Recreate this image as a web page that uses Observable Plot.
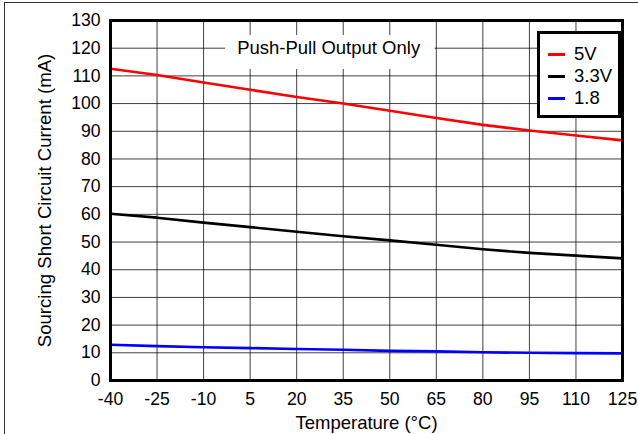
<!DOCTYPE html>
<html>
<head>
<meta charset="utf-8">
<script src="https://cdn.jsdelivr.net/npm/d3@7"></script>
<script src="https://cdn.jsdelivr.net/npm/@observablehq/plot@0.6"></script>
<style>
  html, body { margin: 0; padding: 0; background: #fff; }
  #wrap { position: relative; width: 638px; height: 434px; overflow: hidden; font-family: "Liberation Sans", Arial, Helvetica, sans-serif; }
  #border { position: absolute; left: 4px; top: 2px; width: 700px; height: 500px; border-top: 1px solid #333; border-left: 1px solid #333; }
  #legend { position: absolute; left: 537px; top: 31px; width: 78px; height: 81px; border: 3px solid #000; background: #fff; font-size: 18.5px; }
  .item { position: absolute; left: 8px; height: 20px; line-height: 20px; }
  .sw { display: inline-block; width: 17px; height: 3px; vertical-align: middle; margin-right: 9px; position: relative; top: -1px; }
</style>
</head>
<body>
<div id="wrap">
  <div id="border"></div>
  <div id="chart"></div>
  <div id="legend"></div>
</div>
<script>
const temps = [-40, -25, -10, 5, 20, 35, 50, 65, 80, 95, 110, 125];
const current5V = [112.6, 110.3, 107.6, 105.0, 102.4, 100.0, 97.4, 94.8, 92.3, 90.3, 88.5, 86.7];
const current3V3 = [60.2, 58.8, 57.0, 55.4, 53.7, 52.1, 50.6, 49.0, 47.4, 46.1, 45.1, 44.1];
const current1V8 = [12.9, 12.4, 12.0, 11.7, 11.4, 11.1, 10.7, 10.5, 10.2, 10.0, 9.9, 9.8];
const seriesNames = ["5V", "3.3V", "1.8"];
const seriesColors = ["#ff0000", "#000000", "#0000ff"];
const xTicks = [-40, -25, -10, 5, 20, 35, 50, 65, 80, 95, 110, 125];
const yTicks = [0, 10, 20, 30, 40, 50, 60, 70, 80, 90, 100, 110, 120, 130];
const annotationText = "Push-Pull Output Only";

const seriesValues = [current5V, current3V3, current1V8];
const rows = [];
seriesNames.forEach((name, i) => {
  temps.forEach((t, j) => rows.push({series: name, t, v: seriesValues[i][j]}));
});

const font = "'Liberation Sans', Arial, Helvetica, sans-serif";
const chart = Plot.plot({
  width: 638,
  height: 434,
  marginLeft: 110,
  marginRight: 16,
  marginTop: 20,
  marginBottom: 54,
  style: {fontSize: "17px", fontFamily: font, color: "#000", background: "transparent"},
  x: {domain: [-40, 125], ticks: xTicks},
  y: {domain: [0, 130], ticks: yTicks},
  color: {domain: seriesNames, range: seriesColors},
  marks: [
    Plot.gridX(xTicks, {stroke: "#000", strokeOpacity: 0.75, strokeWidth: 1}),
    Plot.gridY(yTicks, {stroke: "#000", strokeOpacity: 0.75, strokeWidth: 1}),
    Plot.rect([annotationText], {x1: () => -2.9, x2: () => 64.6, y1: () => 112.3, y2: () => 124.6, fill: "white"}),
    Plot.text([annotationText], {x: () => 30.3, y: () => 120.2, text: d => d, fontSize: 18.5, fill: "#000"}),
    Plot.line(rows, {x: "t", y: "v", z: "series", stroke: "series", strokeWidth: 2.6}),
    Plot.axisX({ticks: xTicks, tickSize: 0, tickPadding: 12, fontSize: 17.6, tickFormat: d => String(d), label: null}),
    Plot.axisY({ticks: yTicks, tickSize: 0, tickPadding: 10, fontSize: 17.6, tickFormat: d => String(d), label: null}),
    Plot.axisX({ticks: [], tickSize: 0, fontSize: 18.5, label: "Temperature (°C)", labelAnchor: "center", labelArrow: "none", labelOffset: 48}),
    Plot.axisY({ticks: [], tickSize: 0, fontSize: 18.6, label: "Sourcing Short Circuit Current (mA)", labelAnchor: "center", labelArrow: "none", labelOffset: 73}),
    Plot.frame({stroke: "#000", strokeWidth: 3})
  ]
});
chart.style.position = "absolute";
chart.style.left = "0px";
chart.style.top = "0px";
document.getElementById("chart").appendChild(chart);

const legend = document.getElementById("legend");
seriesNames.forEach((name, i) => {
  const d = document.createElement("div");
  d.className = "item";
  d.style.top = (10 + i * 22) + "px";
  const sw = document.createElement("span");
  sw.className = "sw";
  sw.style.background = seriesColors[i];
  d.appendChild(sw);
  d.appendChild(document.createTextNode(name));
  legend.appendChild(d);
});
</script>
</body>
</html>
